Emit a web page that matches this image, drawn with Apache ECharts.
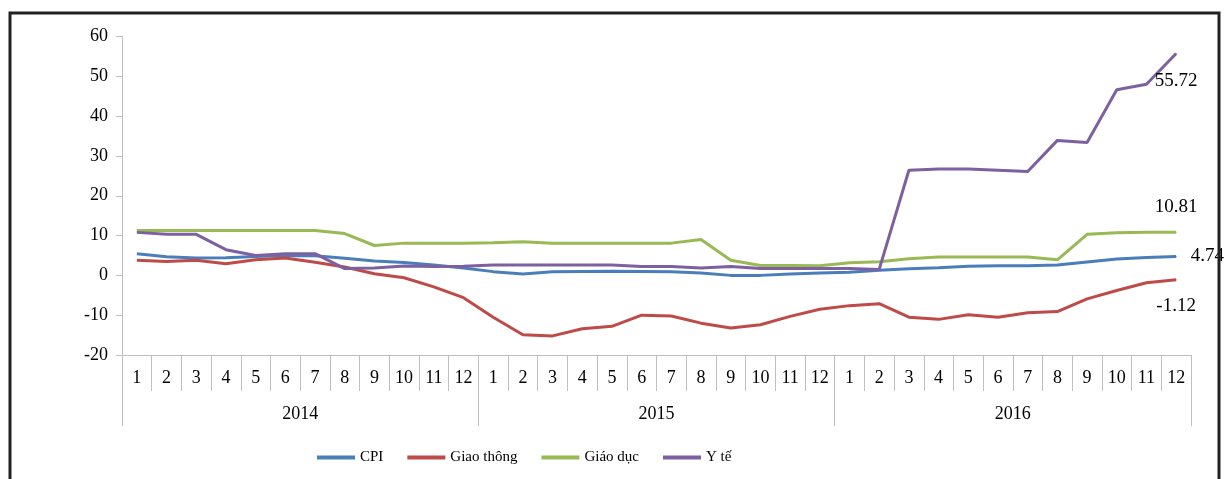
<!DOCTYPE html>
<html>
<head>
<meta charset="utf-8">
<script src="https://cdn.jsdelivr.net/npm/echarts@6/dist/echarts.min.js"></script>
<style>
  html, body { margin: 0; padding: 0; background: #fff; }
  #chart { width: 1225px; height: 479px; }
</style>
</head>
<body>
<div id="chart"></div>
<script>
// Monthly year-on-year change (%), 2014-2016
const months = ['1','2','3','4','5','6','7','8','9','10','11','12',
                '1','2','3','4','5','6','7','8','9','10','11','12',
                '1','2','3','4','5','6','7','8','9','10','11','12'];
const years = ['2014', '2015', '2016'];
const yTicks = { min: -20, max: 60, interval: 10 };

const cpi = [5.45, 4.65, 4.39, 4.45, 4.72, 4.98, 4.94, 4.31, 3.62, 3.23, 2.6, 1.84,
             0.94, 0.32, 0.93, 1.0, 1.02, 1.0, 0.9, 0.61, 0.0, 0.0, 0.34, 0.6,
             0.8, 1.27, 1.69, 1.89, 2.28, 2.4, 2.39, 2.6, 3.34, 4.09, 4.5, 4.74];
const giaoThong = [3.8, 3.5, 3.8, 2.9, 3.9, 4.35, 3.3, 2.1, 0.4, -0.6, -2.9, -5.6,
                   -10.5, -14.9, -15.2, -13.4, -12.8, -10.0, -10.2, -12.0, -13.2, -12.4, -10.3, -8.5,
                   -7.6, -7.1, -10.5, -11.05, -9.9, -10.5, -9.4, -9.1, -5.9, -3.8, -1.85, -1.12];
const giaoDuc = [11.3, 11.3, 11.3, 11.3, 11.3, 11.3, 11.3, 10.5, 7.5, 8.1, 8.1, 8.1,
                 8.2, 8.45, 8.1, 8.1, 8.1, 8.1, 8.1, 9.0, 3.8, 2.5, 2.5, 2.4,
                 3.2, 3.4, 4.2, 4.6, 4.6, 4.6, 4.6, 3.9, 10.3, 10.7, 10.81, 10.81];
const yTe = [10.8, 10.3, 10.3, 6.45, 5.0, 5.45, 5.45, 1.7, 1.85, 2.35, 2.25, 2.3,
             2.6, 2.6, 2.6, 2.6, 2.6, 2.25, 2.25, 1.85, 2.25, 1.7, 1.7, 1.7,
             1.7, 1.5, 26.4, 26.7, 26.7, 26.4, 26.1, 33.9, 33.4, 46.6, 48.0, 55.72];

const serif = 'Liberation Serif';
const gray = '#bfbfbf';

// Attach a value label to the last point of a series
function withEndLabel(values, position, offset) {
  return values.map((v, i) => i === values.length - 1
    ? { value: v, symbol: 'circle', symbolSize: 1,
        label: { show: true, position, offset, formatter: '{c}',
                 color: '#000', fontFamily: serif, fontSize: 19 } }
    : v);
}

function lineSeries(name, color, data) {
  return {
    name, type: 'line', data, symbol: 'none', animation: false,
    lineStyle: { color, width: 3 }, itemStyle: { color },
    emphasis: { disabled: true }
  };
}

const chart = echarts.init(document.getElementById('chart'), null, { renderer: 'canvas' });
chart.setOption({
  backgroundColor: '#fff',
  animation: false,
  grid: { left: 122, right: 34, top: 36.5, bottom: 124 },
  graphic: [{
    type: 'rect', silent: true, z: 100,
    shape: { x: 10, y: 13, width: 1209, height: 520 },
    style: { fill: 'none', stroke: '#222', lineWidth: 3 }
  }],
  legend: {
    left: 312, top: 445, itemGap: 24, itemWidth: 38, itemHeight: 4,
    icon: 'rect',
    textStyle: { fontFamily: serif, fontSize: 15, color: '#000' },
    data: ['CPI', 'Giao thông', 'Giáo dục', 'Y tế']
  },
  xAxis: [{
    type: 'category', data: months, boundaryGap: true,
    axisLine: { show: true, onZero: false, lineStyle: { color: gray, width: 1 } },
    axisTick: { show: true, interval: 0, length: 36, lineStyle: { color: gray } },
    axisLabel: { interval: 0, margin: 14, fontFamily: serif, fontSize: 18, color: '#000' }
  }, {
    type: 'category', data: years, position: 'bottom', offset: 36, boundaryGap: true,
    axisLine: { show: false, onZero: false },
    axisTick: { show: true, interval: 0, length: 35, lineStyle: { color: gray } },
    axisLabel: { interval: 0, margin: 14, fontFamily: serif, fontSize: 18, color: '#000' }
  }],
  yAxis: {
    type: 'value', min: yTicks.min, max: yTicks.max, interval: yTicks.interval,
    splitLine: { show: false },
    axisLine: { show: true, lineStyle: { color: gray } },
    axisTick: { show: true, length: 6, lineStyle: { color: gray } },
    axisLabel: { margin: 14, fontFamily: serif, fontSize: 18, color: '#000' }
  },
  series: [
    lineSeries('CPI', '#4a7ebb', withEndLabel(cpi, 'right', [9, 0])),
    lineSeries('Giao thông', '#be4b48', withEndLabel(giaoThong, 'bottom', [0, 11])),
    lineSeries('Giáo dục', '#98b954', withEndLabel(giaoDuc, 'top', [0, -10])),
    lineSeries('Y tế', '#7d60a0', withEndLabel(yTe, 'bottom', [0, 12]))
  ]
});
</script>
</body>
</html>
